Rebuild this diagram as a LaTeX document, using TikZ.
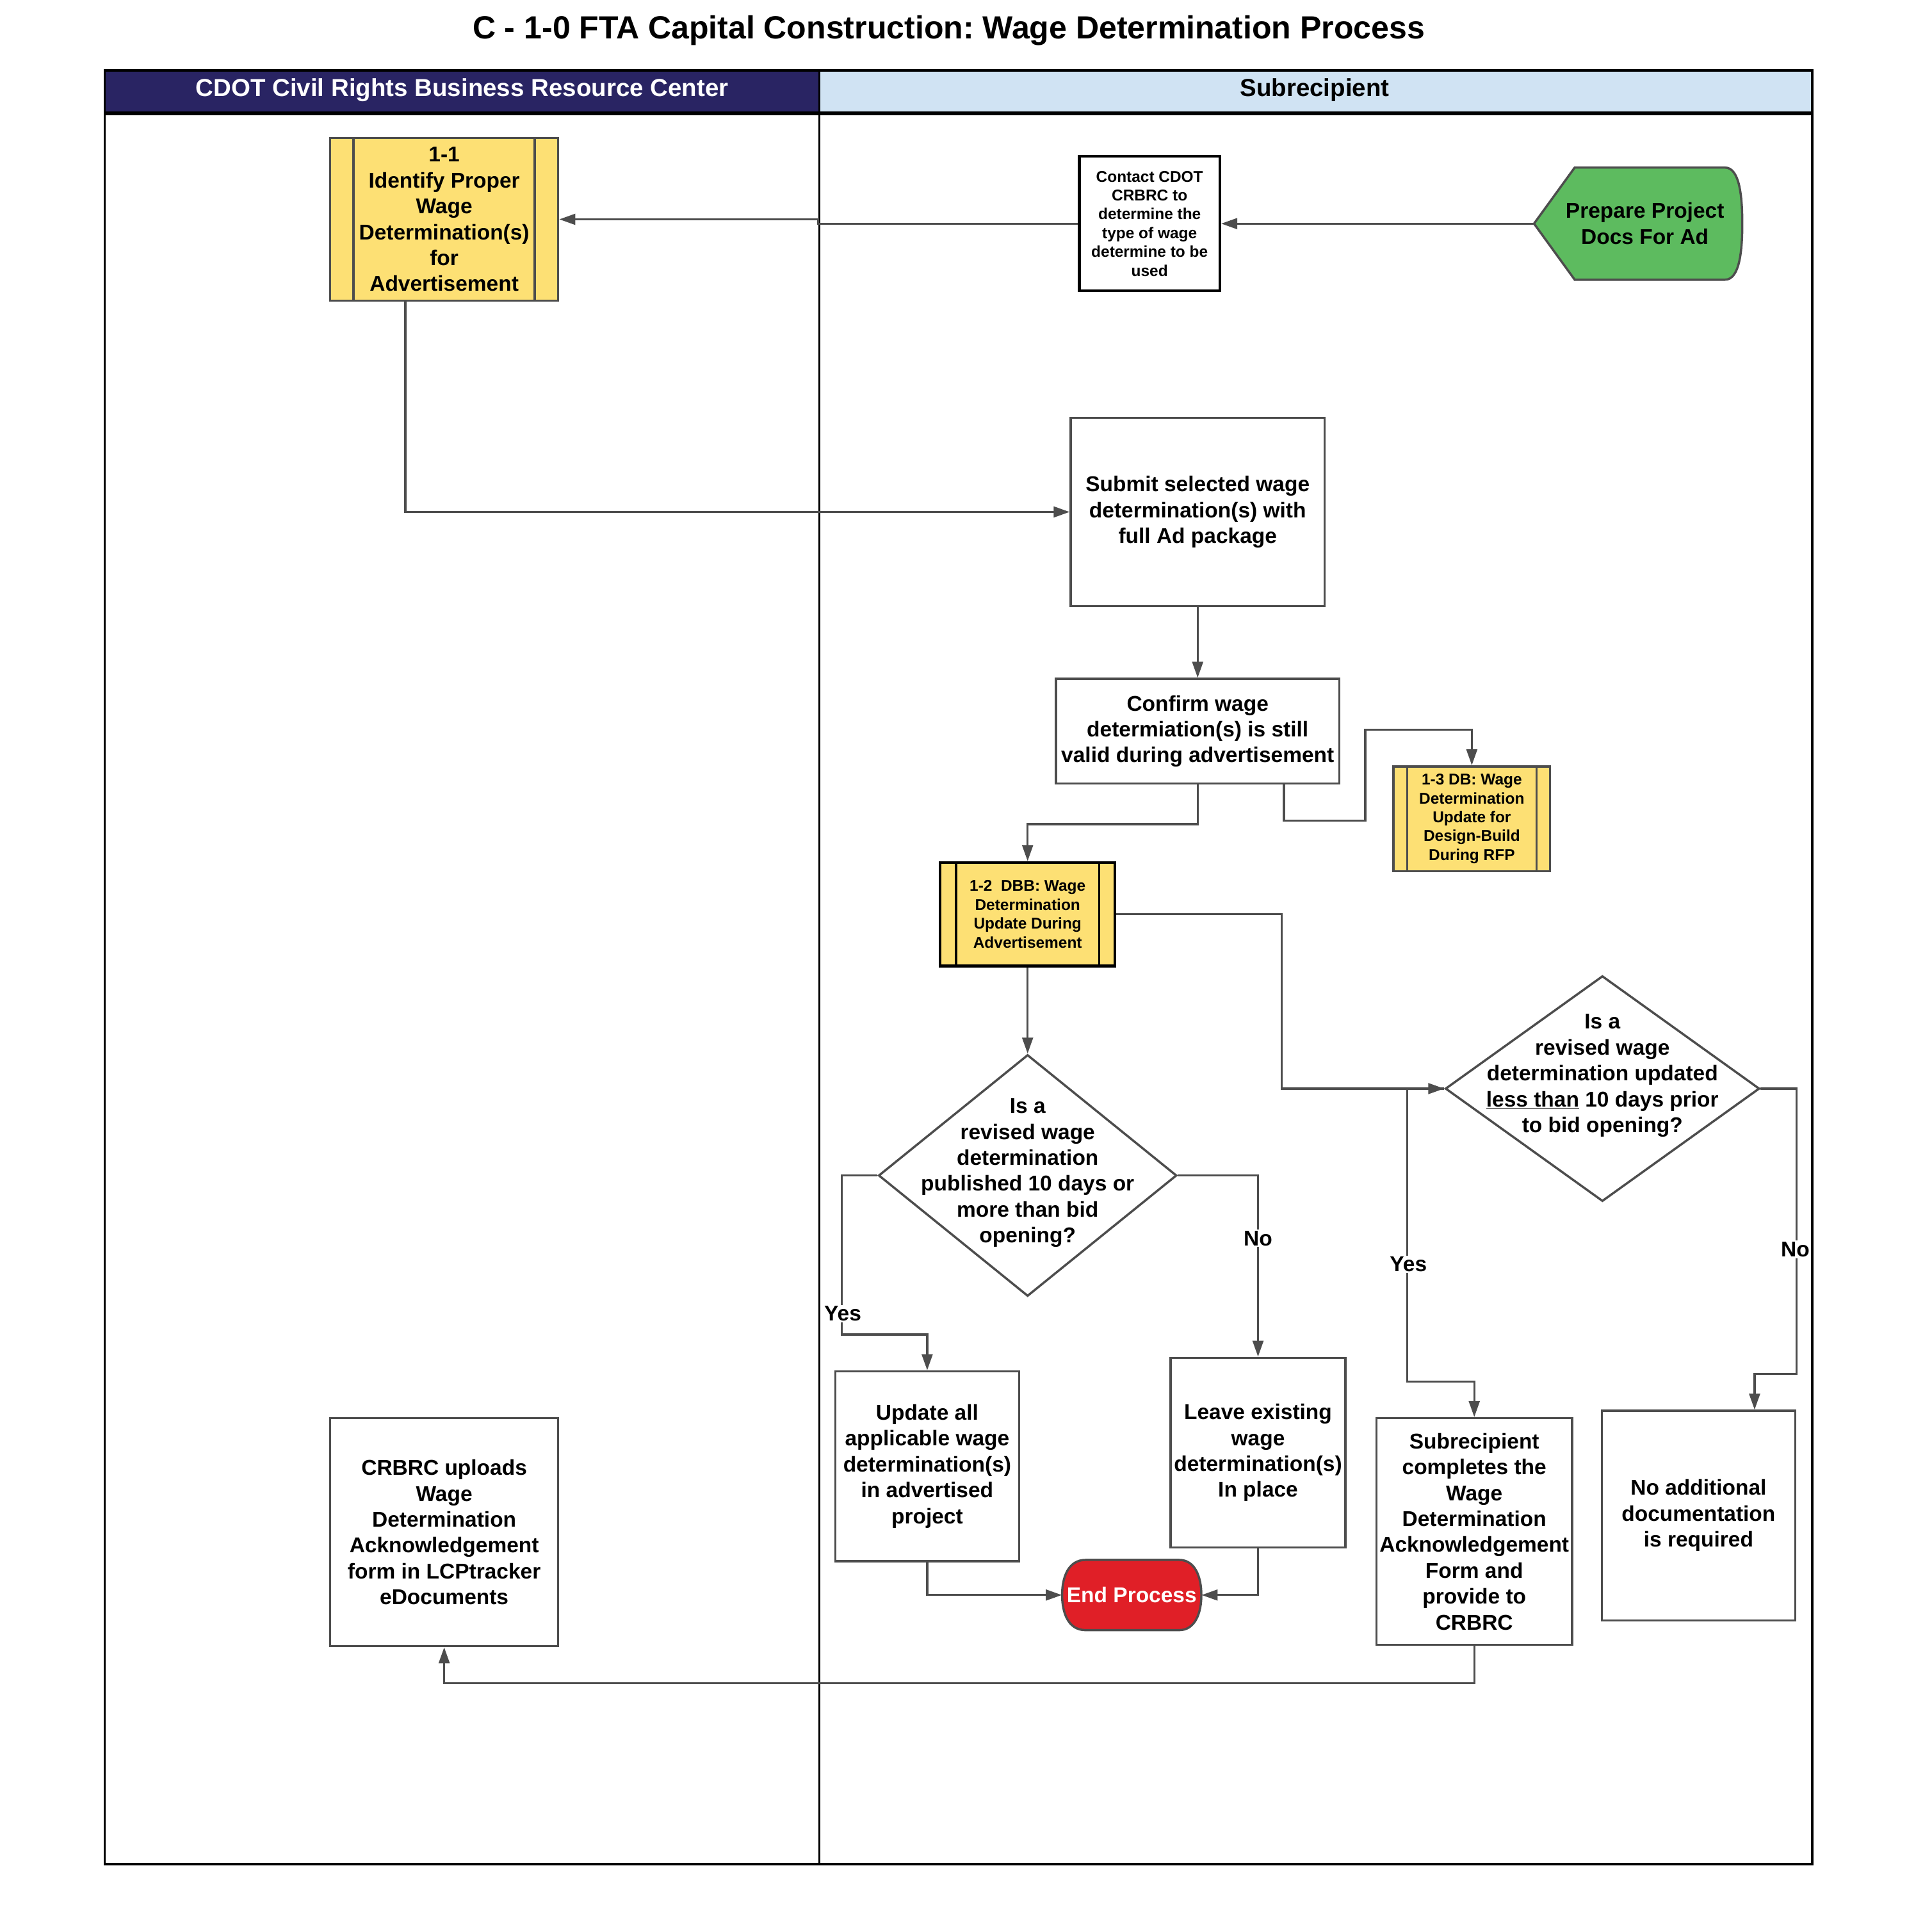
\documentclass[tikz,border=0pt]{standalone}
\usepackage{fontspec}
\setmainfont{Liberation Sans}
\usetikzlibrary{arrows.meta, shapes.geometric, positioning}
\frenchspacing

\definecolor{procyellow}{RGB}{253,224,116}
\definecolor{startgreen}{RGB}{93,187,95}
\definecolor{endred}{RGB}{224,31,39}
\definecolor{lanenavy}{RGB}{41,36,99}
\definecolor{laneblue}{RGB}{208,227,243}
\definecolor{linegray}{RGB}{77,77,77}

\newcommand{\txtbody}{\fontsize{17.4}{21}\selectfont\bfseries}
\newcommand{\txtsmall}{\fontsize{12.7}{15.3}\selectfont\bfseries}

\begin{document}
\begin{tikzpicture}[x=1pt, y=-1pt, >={Triangle[length=13pt,width=8.7pt]},
    task/.style={draw=linegray, line width=1.8pt, fill=white, align=center, inner sep=2pt, font=\txtbody},
    subproc/.style={task, fill=procyellow, font=\txtsmall,
      path picture={\draw[line width=1.8pt]
        ([xshift=#1]path picture bounding box.north west) -- ([xshift=#1]path picture bounding box.south west)
        ([xshift=-#1]path picture bounding box.north east) -- ([xshift=-#1]path picture bounding box.south east);}},
    subproc/.default=12pt,
    decision/.style={diamond, draw=linegray, line width=1.8pt, fill=white, inner sep=0pt},
    conn/.style={draw=linegray, line width=1.7pt, ->},
    lbl/.style={fill=white, inner sep=1pt, font=\txtbody}]
  \useasboundingbox (0,0) rectangle (1568,1568);

  % title and pool
  \node[font=\fontsize{26}{30}\selectfont\bfseries] (title) at (770,25) {C - 1-0 FTA Capital Construction: Wage Determination Process};
  \fill[lanenavy] (85,57) rectangle (665,92);
  \fill[laneblue] (665,57) rectangle (1471,92);
  \draw[line width=2pt] (85,57) rectangle (1471,1513);
  \draw[line width=3pt] (85,92) -- (1471,92);
  \draw[line width=1.6pt] (665,57) -- (665,1513);
  \node[text=white, font=\fontsize{20}{24}\selectfont\bfseries] (hdcrbrc) at (375,73) {CDOT Civil Rights Business Resource Center};
  \node[font=\fontsize{20}{24}\selectfont\bfseries] (hdsub) at (1067,73) {Subrecipient};

  % start and end shapes
  \draw[fill=startgreen, draw=linegray, line width=1.8pt] (1245,181.5) -- (1278,136) -- (1400,136)
    .. controls (1412,136) and (1414,160) .. (1414,181.5)
    .. controls (1414,203) and (1412,227) .. (1400,227) -- (1278,227) -- cycle;
  \draw[fill=endred, draw=linegray, line width=1.8pt] (881,1266) -- (957,1266)
    .. controls (970,1266) and (975,1280) .. (975,1294.5)
    .. controls (975,1309) and (970,1323) .. (957,1323) -- (881,1323)
    .. controls (867,1323) and (862,1309) .. (862,1294.5)
    .. controls (862,1280) and (867,1266) .. (881,1266) -- cycle;
  \node[align=center, font=\txtbody, minimum width=180pt, minimum height=91pt] (start) at (1335,181.5) {Prepare Project\\Docs For Ad};
  \node[text=white, font=\txtbody, inner sep=0pt, minimum width=113pt, minimum height=57pt] (endp) at (918.5,1294.5) {End Process};

  % boxes
  \node[subproc=19pt, font=\txtbody, minimum width=185pt, minimum height=132pt] (p11) at (360.5,178)
    {1-1\\Identify Proper\\Wage\\Determination(s)\\for\\Advertisement};
  \node[task, draw=black, line width=2.2pt, font=\txtsmall, minimum width=114pt, minimum height=109pt] (contact) at (933,181.5)
    {Contact CDOT\\CRBRC to\\determine the\\type of wage\\determine to be\\used};
  \node[task, minimum width=206pt, minimum height=153pt] (submit) at (972,415.5)
    {Submit selected wage\\determination(s) with\\full Ad package};
  \node[task, minimum width=230pt, minimum height=85pt] (confirm) at (972,593.5)
    {Confirm wage\\determiation(s) is still\\valid during advertisement};
  \node[subproc=11pt, minimum width=127pt, minimum height=85pt] (p13) at (1194.5,664.5)
    {1-3 DB: Wage\\Determination\\Update for\\Design-Build\\During RFP};
  \node[subproc=13pt, draw=black, line width=2.2pt, minimum width=142pt, minimum height=84pt] (p12) at (834,742)
    {1-2\ \ DBB: Wage\\Determination\\Update During\\Advertisement};
  \node[decision, minimum width=242pt, minimum height=196pt] (d1) at (834,954) {};
  \node[align=center, font=\txtbody] (d1txt) at (834,952)
    {Is a\\revised wage\\determination\\published 10 days or\\more than bid\\opening?};
  \node[decision, minimum width=255pt, minimum height=183pt] (d2) at (1300.5,883.5) {};
  \node[align=center, font=\txtbody] (d2txt) at (1300.5,873)
    {Is a\\revised wage\\determination updated\\\underline{less than} 10 days prior\\to bid opening?};
  \node[task, minimum width=149pt, minimum height=154pt] (update) at (752.5,1190)
    {Update all\\applicable wage\\determination(s)\\in advertised\\project};
  \node[task, minimum width=142pt, minimum height=154pt] (leave) at (1021,1179)
    {Leave existing\\wage\\determination(s)\\In place};
  \node[task, minimum width=159pt, minimum height=184pt] (subr) at (1196.5,1243)
    {Subrecipient\\completes the\\Wage\\Determination\\Acknowledgement\\Form and\\provide to\\CRBRC};
  \node[task, minimum width=157pt, minimum height=170pt] (noadd) at (1378.5,1230)
    {No additional\\documentation\\is required};
  \node[task, minimum width=185pt, minimum height=185pt] (crbrc) at (360.5,1243.5)
    {CRBRC uploads\\Wage\\Determination\\Acknowledgement\\form in LCPtracker\\eDocuments};

  % connectors
  \draw[conn] (start.west) -- (contact.east);
  \draw[conn] (contact.west) -- ++(-211,0) |- (p11.east);
  \draw[conn] ([xshift=-31.5pt]p11.south) |- (submit.west);
  \draw[conn] (submit.south) -- (confirm.north);
  \draw[conn] (confirm.south) -- ++(0,32) -| (p12.north);
  \draw[conn] ([xshift=70pt]confirm.south) -- ++(0,29) -- ++(66,0) |- ([yshift=29pt]p13.north) -- (p13.north);
  \draw[conn] (p12.east) -- ++(134,0) |- (d2.west);
  \draw[conn] (p12.south) -- (d1.north);
  \draw[conn] (d1.west) -- ++(-29,0) |- ([yshift=29pt]update.north) -- (update.north);
  \draw[conn] (d1.east) -| (leave.north);
  \draw[conn] (d2.west) -- ++(-30,0) |- ([yshift=29pt]subr.north) -- (subr.north);
  \draw[conn] (d2.east) -- ++(29,0) |- ([xshift=45.5pt,yshift=29pt]noadd.north) -- ([xshift=45.5pt]noadd.north);
  \draw[conn] (update.south) |- (endp.west);
  \draw[conn] (leave.south) |- (endp.east);
  \draw[conn] (subr.south) -- ++(0,30) -| (crbrc.south);

  % branch labels
  \node[lbl] (yes1) at (684,1066) {Yes};
  \node[lbl] (no1) at (1021,1005) {No};
  \node[lbl] (yes2) at (1143,1026) {Yes};
  \node[lbl] (no2) at (1457,1014) {No};
\end{tikzpicture}
\end{document}
